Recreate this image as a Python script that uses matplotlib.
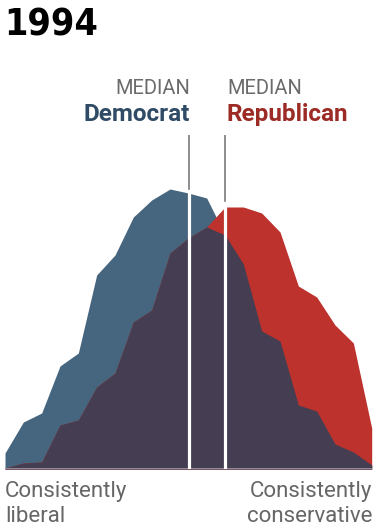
import numpy as np
import matplotlib
matplotlib.use("Agg")
import matplotlib.pyplot as plt

# ideology scale, 21 steps from consistently liberal to consistently conservative
scale = np.arange(21)
# share of each party at each point (relative heights)
dem = [16, 47, 56, 103, 116, 194, 214, 252, 269, 280, 276, 271,
       234, 205, 138, 128, 64, 58, 25, 17, 4]
rep = [1, 6, 7, 44, 49, 82, 96, 147, 159, 216, 231, 242,
       262, 262, 256, 237, 183, 172, 144, 126, 41]
dem_median = 10.05
rep_median = 12.02

blue = "#46657f"
red = "#bd322c"
purple = "#453d51"
W, H = 376, 527

fig = plt.figure(figsize=(W / 100, H / 100), dpi=100)
ax = fig.add_axes([5 / W, 58 / H, 366.7 / W, 334 / H])
ax.set_xlim(0, 20)
ax.set_ylim(0, 334)
ax.axis("off")

both = np.minimum(dem, rep)
ax.fill_between(scale, 0, dem, color=blue, lw=0)
ax.fill_between(scale, 0, rep, color=red, lw=0)
ax.fill_between(scale, 0, both, color=purple, lw=0)
ax.axhline(0, color="#a09cab", lw=1.2)

# median markers: white inside the area, gray above it
dem_top = np.interp(dem_median, scale, dem)
rep_top = np.interp(rep_median, scale, rep)
ax.plot([dem_median, dem_median], [0, dem_top], color="white", lw=2.3)
ax.plot([rep_median, rep_median], [0, rep_top], color="white", lw=2.3)
ax.plot([dem_median, dem_median], [dem_top + 4, 334], color="#7a7a7a", lw=1.2)
ax.plot([rep_median, rep_median], [rep_top + 6, 334], color="#7a7a7a", lw=1.2)

def px(x, y):
    return x / W, 1 - y / H

fig.text(*px(4, 36), "1994", fontsize=27, fontweight="bold", fontstretch="condensed",
         family=["DejaVu Sans"], color="black", va="baseline")
fig.text(*px(190, 94), "MEDIAN", fontsize=14.5, family="Roboto",
         color="#6b6b6b", ha="right", va="baseline")
fig.text(*px(227, 94), "MEDIAN", fontsize=14.5, family="Roboto",
         color="#6b6b6b", ha="left", va="baseline")
fig.text(*px(190, 121), "Democrat", fontsize=17.5, fontweight="bold", family="Roboto",
         color="#2f4b65", ha="right", va="baseline")
fig.text(*px(227, 121), "Republican", fontsize=17.5, fontweight="bold", family="Roboto",
         color="#9c2a25", ha="left", va="baseline")

fig.text(*px(5, 497), "Consistently", fontsize=16, family="Roboto",
         color="#666666", ha="left", va="baseline")
fig.text(*px(5, 522), "liberal", fontsize=16, family="Roboto",
         color="#666666", ha="left", va="baseline")
fig.text(*px(372, 497), "Consistently", fontsize=16, family="Roboto",
         color="#666666", ha="right", va="baseline")
fig.text(*px(372, 522), "conservative", fontsize=16, family="Roboto",
         color="#666666", ha="right", va="baseline")

fig.savefig("out.png", dpi=100)
